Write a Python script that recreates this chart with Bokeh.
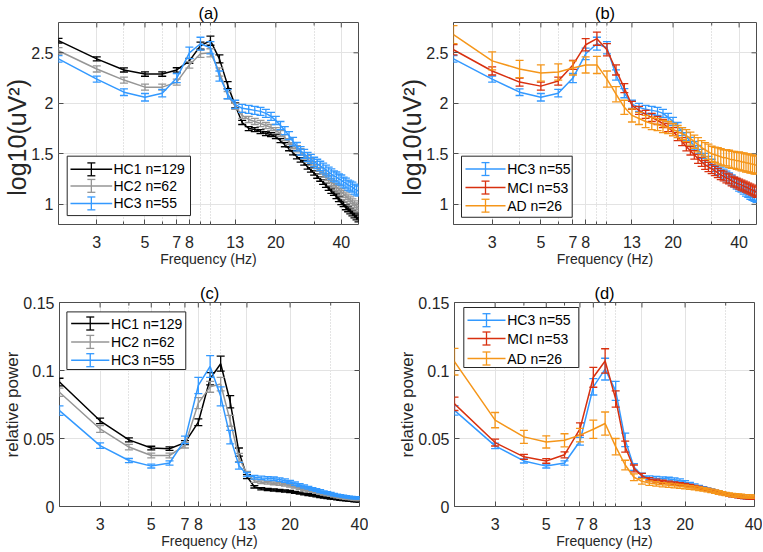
import math
from bokeh.plotting import figure
from bokeh.models import (Range1d, FixedTicker, Label, BoxAnnotation, ColumnDataSource)
from bokeh.layouts import row, column
from bokeh.embed import file_html
from bokeh.resources import INLINE

FONT = "Liberation Sans"
TXT = "#262626"
AX = "#4D4D4D"

# ---------------- data ----------------
freq_ab = [2, 3, 4, 5, 6, 7, 8, 9, 10, 11, 12, 13, 14, 15, 16, 17, 18, 19, 20, 21,
           22, 23, 24, 25, 26, 27, 28, 29, 30, 31, 32, 33, 34, 35, 36, 37, 38, 39, 40, 41,
           42, 43, 44, 45, 46, 47, 48]
freq_cd = [2, 3, 4, 5, 6, 7, 8, 9, 10, 11, 12, 13, 14, 15, 16, 17, 18, 19, 20, 21,
           22, 23, 24, 25, 26, 27, 28, 29, 30, 31, 32, 33, 34, 35, 36, 37, 38, 39, 40]

# panel (a): log10 absolute power
a_hc1 = [2.62, 2.44, 2.33, 2.29, 2.29, 2.33, 2.42, 2.57, 2.62, 2.44,
         2.18, 1.98, 1.81, 1.75, 1.74, 1.72, 1.70, 1.69, 1.67, 1.63,
         1.59, 1.55, 1.51, 1.47, 1.44, 1.41, 1.37, 1.34, 1.31, 1.28,
         1.25, 1.22, 1.19, 1.16, 1.13, 1.11, 1.08, 1.05, 1.02, 1.00,
         0.97, 0.95, 0.93, 0.91, 0.89, 0.87, 0.85]
a_hc1_err = [0.023, 0.02, 0.02, 0.022, 0.022, 0.022, 0.025, 0.035, 0.045, 0.04,
             0.035, 0.025, 0.02, 0.02, 0.02, 0.02, 0.02, 0.02, 0.02, 0.02,
             0.02, 0.02, 0.02, 0.02, 0.022, 0.022, 0.022, 0.022, 0.022, 0.022,
             0.022, 0.022, 0.022, 0.022, 0.022, 0.022, 0.024, 0.024, 0.024, 0.024,
             0.024, 0.024, 0.024, 0.024, 0.024, 0.024, 0.024]
a_hc2 = [2.52, 2.34, 2.23, 2.16, 2.16, 2.21, 2.38, 2.49, 2.50, 2.31,
         2.08, 1.97, 1.88, 1.84, 1.82, 1.80, 1.78, 1.76, 1.73, 1.70,
         1.66, 1.62, 1.58, 1.55, 1.52, 1.48, 1.45, 1.42, 1.39, 1.36,
         1.33, 1.30, 1.27, 1.25, 1.22, 1.20, 1.17, 1.15, 1.12, 1.10,
         1.08, 1.06, 1.04, 1.02, 1.00, 0.98, 0.96]
a_hc2_err = [0.032, 0.03, 0.03, 0.03, 0.03, 0.03, 0.032, 0.036, 0.04, 0.04,
             0.035, 0.03, 0.03, 0.03, 0.03, 0.03, 0.03, 0.03, 0.03, 0.03,
             0.03, 0.03, 0.03, 0.03, 0.032, 0.032, 0.032, 0.032, 0.032, 0.032,
             0.032, 0.032, 0.034, 0.034, 0.034, 0.034, 0.034, 0.034, 0.034, 0.034,
             0.034, 0.034, 0.034, 0.034, 0.034, 0.034, 0.034]
a_hc3 = [2.44, 2.24, 2.11, 2.06, 2.10, 2.25, 2.50, 2.59, 2.55, 2.27,
         2.09, 1.99, 1.95, 1.94, 1.93, 1.92, 1.90, 1.87, 1.83, 1.78,
         1.73, 1.68, 1.62, 1.57, 1.53, 1.50, 1.47, 1.45, 1.42, 1.40,
         1.38, 1.36, 1.34, 1.32, 1.30, 1.28, 1.27, 1.25, 1.24, 1.22,
         1.21, 1.19, 1.18, 1.17, 1.15, 1.14, 1.13]
a_hc3_err = [0.033, 0.03, 0.033, 0.037, 0.037, 0.045, 0.057, 0.064, 0.06, 0.05,
             0.045, 0.04, 0.04, 0.04, 0.04, 0.04, 0.04, 0.04, 0.04, 0.04,
             0.04, 0.04, 0.042, 0.042, 0.042, 0.044, 0.044, 0.044, 0.046, 0.046,
             0.046, 0.048, 0.048, 0.048, 0.05, 0.05, 0.05, 0.05, 0.05, 0.05,
             0.05, 0.05, 0.05, 0.05, 0.05, 0.05, 0.05]

# panel (b): log10 absolute power
b_hc3 = [2.44, 2.24, 2.11, 2.06, 2.10, 2.25, 2.49, 2.59, 2.55, 2.28,
         2.10, 1.99, 1.96, 1.94, 1.93, 1.92, 1.90, 1.86, 1.82, 1.77,
         1.72, 1.67, 1.62, 1.58, 1.54, 1.50, 1.46, 1.43, 1.40, 1.37,
         1.34, 1.32, 1.30, 1.28, 1.26, 1.24, 1.22, 1.20, 1.18, 1.17,
         1.15, 1.13, 1.12, 1.10, 1.09, 1.08, 1.07]
b_hc3_err = [0.033, 0.03, 0.033, 0.037, 0.037, 0.045, 0.057, 0.064, 0.06, 0.05,
             0.045, 0.04, 0.04, 0.04, 0.04, 0.04, 0.04, 0.04, 0.04, 0.04,
             0.04, 0.04, 0.042, 0.042, 0.042, 0.044, 0.044, 0.044, 0.046, 0.046,
             0.046, 0.048, 0.048, 0.048, 0.05, 0.05, 0.05, 0.05, 0.05, 0.05,
             0.05, 0.05, 0.05, 0.05, 0.05, 0.05, 0.05]
b_mci = [2.53, 2.32, 2.21, 2.17, 2.22, 2.38, 2.58, 2.64, 2.53, 2.33,
         2.15, 1.98, 1.93, 1.89, 1.86, 1.83, 1.80, 1.76, 1.72, 1.67,
         1.62, 1.57, 1.53, 1.49, 1.45, 1.42, 1.39, 1.37, 1.35, 1.33,
         1.31, 1.29, 1.28, 1.26, 1.25, 1.23, 1.22, 1.21, 1.20, 1.19,
         1.18, 1.17, 1.16, 1.15, 1.14, 1.13, 1.12]
b_mci_err = [0.05, 0.04, 0.04, 0.04, 0.04, 0.045, 0.06, 0.065, 0.06, 0.05,
             0.045, 0.04, 0.04, 0.04, 0.04, 0.04, 0.04, 0.04, 0.04, 0.04,
             0.04, 0.042, 0.042, 0.042, 0.044, 0.044, 0.044, 0.046, 0.046, 0.046,
             0.046, 0.046, 0.048, 0.048, 0.048, 0.048, 0.048, 0.048, 0.05, 0.05,
             0.05, 0.05, 0.05, 0.05, 0.05, 0.05, 0.05]
b_ad = [2.68, 2.42, 2.34, 2.30, 2.31, 2.35, 2.38, 2.38, 2.24, 2.09,
        1.96, 1.88, 1.85, 1.82, 1.80, 1.79, 1.77, 1.76, 1.74, 1.72,
        1.70, 1.68, 1.65, 1.62, 1.59, 1.56, 1.54, 1.52, 1.50, 1.49,
        1.48, 1.47, 1.46, 1.46, 1.45, 1.44, 1.44, 1.43, 1.43, 1.42,
        1.42, 1.41, 1.41, 1.40, 1.40, 1.39, 1.39]
b_ad_err = [0.09, 0.09, 0.085, 0.08, 0.08, 0.07, 0.08, 0.085, 0.08, 0.075,
            0.07, 0.065, 0.06, 0.06, 0.06, 0.06, 0.06, 0.06, 0.06, 0.06,
            0.06, 0.06, 0.065, 0.065, 0.07, 0.07, 0.07, 0.075, 0.075, 0.075,
            0.08, 0.08, 0.08, 0.08, 0.085, 0.085, 0.085, 0.085, 0.09, 0.09,
            0.09, 0.09, 0.09, 0.09, 0.09, 0.09, 0.09]

# panel (c): relative power
c_hc1 = [0.0915, 0.063, 0.049, 0.043, 0.0425, 0.047, 0.062, 0.094, 0.105, 0.077,
         0.040, 0.022, 0.0145, 0.013, 0.0125, 0.0122, 0.0118, 0.0114, 0.011, 0.0104,
         0.0098, 0.0092, 0.0087, 0.0082, 0.0077, 0.0072, 0.0068, 0.0064, 0.006, 0.0057,
         0.0054, 0.0051, 0.0048, 0.0046, 0.0044, 0.0042, 0.004, 0.0039, 0.0038]
c_hc1_err = [0.0028, 0.002, 0.0015, 0.0013, 0.0013, 0.0015, 0.0025, 0.0045, 0.0055, 0.0045,
             0.003, 0.0015, 0.0009, 0.0008, 0.0008, 0.0008, 0.0008, 0.0008, 0.0008, 0.0007,
             0.0007, 0.0007, 0.0007, 0.0006, 0.0006, 0.0006, 0.0006, 0.0006, 0.0005, 0.0005,
             0.0005, 0.0005, 0.0005, 0.0005, 0.0005, 0.0005, 0.0005, 0.0005, 0.0005]
c_hc2 = [0.084, 0.057, 0.0437, 0.0375, 0.0375, 0.045, 0.076, 0.088, 0.090, 0.063,
         0.036, 0.024, 0.019, 0.0178, 0.0174, 0.017, 0.0165, 0.016, 0.0152, 0.0144,
         0.0136, 0.0128, 0.012, 0.0112, 0.0105, 0.0098, 0.0092, 0.0086, 0.0081, 0.0076,
         0.0071, 0.0067, 0.0063, 0.006, 0.0057, 0.0055, 0.0053, 0.0051, 0.005]
c_hc2_err = [0.003, 0.0025, 0.002, 0.0017, 0.0017, 0.002, 0.004, 0.004, 0.005, 0.004,
             0.003, 0.0018, 0.0012, 0.001, 0.001, 0.001, 0.001, 0.001, 0.001, 0.0009,
             0.0009, 0.0009, 0.0008, 0.0008, 0.0008, 0.0008, 0.0008, 0.0007, 0.0007, 0.0007,
             0.0007, 0.0007, 0.0007, 0.0007, 0.0007, 0.0007, 0.0007, 0.0007, 0.0007]
c_hc3 = [0.0705, 0.0448, 0.0338, 0.0297, 0.032, 0.049, 0.089, 0.103, 0.081, 0.051,
         0.030, 0.0235, 0.0215, 0.021, 0.0207, 0.0204, 0.0198, 0.019, 0.018, 0.0168,
         0.0157, 0.0147, 0.0138, 0.0129, 0.0121, 0.0113, 0.0106, 0.01, 0.0094, 0.0088,
         0.0083, 0.0079, 0.0075, 0.0072, 0.0069, 0.0067, 0.0065, 0.0064, 0.0063]
c_hc3_err = [0.0035, 0.002, 0.0015, 0.0014, 0.0016, 0.0028, 0.006, 0.008, 0.007, 0.005,
             0.0025, 0.0015, 0.0013, 0.0013, 0.0013, 0.0013, 0.0013, 0.0013, 0.0012, 0.0012,
             0.0011, 0.0011, 0.001, 0.001, 0.001, 0.001, 0.0009, 0.0009, 0.0009, 0.0009,
             0.0008, 0.0008, 0.0008, 0.0008, 0.0008, 0.0008, 0.0008, 0.0008, 0.0008]

# panel (d): relative power
d_hc3 = [0.0707, 0.0446, 0.0335, 0.0297, 0.032, 0.048, 0.088, 0.101, 0.085, 0.049,
         0.029, 0.023, 0.0212, 0.0208, 0.0205, 0.0202, 0.0197, 0.019, 0.0178, 0.0166,
         0.0155, 0.0145, 0.0136, 0.0127, 0.0119, 0.0111, 0.0104, 0.0098, 0.0092, 0.0086,
         0.0081, 0.0077, 0.0073, 0.007, 0.0067, 0.0065, 0.0063, 0.0061, 0.006]
d_hc3_err = [0.0035, 0.002, 0.0015, 0.0014, 0.0016, 0.0028, 0.006, 0.008, 0.007, 0.005,
             0.0025, 0.0015, 0.0013, 0.0013, 0.0013, 0.0013, 0.0013, 0.0013, 0.0012, 0.0012,
             0.0011, 0.0011, 0.001, 0.001, 0.001, 0.001, 0.0009, 0.0009, 0.0009, 0.0009,
             0.0008, 0.0008, 0.0008, 0.0008, 0.0008, 0.0008, 0.0008, 0.0008, 0.0008]
d_mci = [0.0755, 0.047, 0.0365, 0.0335, 0.038, 0.057, 0.095, 0.107, 0.079, 0.044,
         0.028, 0.0225, 0.020, 0.019, 0.0182, 0.0176, 0.017, 0.0165, 0.016, 0.0153,
         0.0146, 0.0139, 0.0132, 0.0125, 0.0117, 0.011, 0.0103, 0.0096, 0.009, 0.0084,
         0.0079, 0.0075, 0.0071, 0.0068, 0.0066, 0.0064, 0.0062, 0.0061, 0.006]
d_mci_err = [0.0049, 0.0025, 0.0018, 0.0017, 0.0022, 0.0045, 0.0073, 0.009, 0.006, 0.004,
             0.0025, 0.0018, 0.0012, 0.0011, 0.0011, 0.001, 0.001, 0.001, 0.001, 0.001,
             0.0009, 0.0009, 0.0009, 0.0009, 0.0009, 0.0008, 0.0008, 0.0008, 0.0008, 0.0008,
             0.0008, 0.0008, 0.0008, 0.0008, 0.0008, 0.0008, 0.0008, 0.0008, 0.0008]
d_ad = [0.1065, 0.0635, 0.0512, 0.0475, 0.0487, 0.0525, 0.0568, 0.061, 0.044, 0.0305,
        0.0215, 0.0185, 0.0172, 0.0166, 0.016, 0.0156, 0.0152, 0.0148, 0.0144, 0.014,
        0.0136, 0.0131, 0.0126, 0.0121, 0.0115, 0.0109, 0.0103, 0.0097, 0.0092, 0.0088,
        0.0085, 0.0082, 0.008, 0.0078, 0.0076, 0.0075, 0.0074, 0.0073, 0.0072]
d_ad_err = [0.0098, 0.0056, 0.0048, 0.0045, 0.0048, 0.005, 0.0067, 0.0085, 0.006, 0.0035,
            0.0025, 0.002, 0.0016, 0.0016, 0.0015, 0.0015, 0.0015, 0.0015, 0.0014, 0.0014,
            0.0014, 0.0014, 0.0013, 0.0013, 0.0013, 0.0013, 0.0013, 0.0012, 0.0012, 0.0012,
            0.0012, 0.0012, 0.0012, 0.0012, 0.0012, 0.0012, 0.0012, 0.0012, 0.0012]

XTICKS = [3, 5, 7, 8, 13, 20, 40]
XMINOR = [2, 4, 6, 9, 10, 30]
YTICKS_ABS = [1, 1.5, 2, 2.5]
YLABELS_ABS = ["1", "1.5", "2", "2.5"]
YTICKS_REL = [0, 0.05, 0.1, 0.15]
YLABELS_REL = ["0", "0.05", "0.1", "0.15"]

C_HC1 = "#000000"
C_HC2 = "#969696"
C_HC3 = "#3399FF"
C_MCI = "#D8300F"
C_AD = "#F5961A"

NBSP = "\u00a0"


def make_panel(letter, freqs, series, xr, yr, yticks, ylabels, ylabel, ylab_size, ylab_standoff,
               width, height, bl, br, bt, bb, legend_geom):
    fw = width - bl - br
    fh = height - bt - bb
    x0, x1 = xr
    y0, y1 = yr

    def xd(px):
        return x0 * (x1 / x0) ** (px / fw)

    def yd(py):
        return y1 - (y1 - y0) * py / fh

    p = figure(width=width, height=height, x_axis_type="log",
               x_range=Range1d(x0, x1), y_range=Range1d(y0, y1),
               output_backend="svg", toolbar_location=None,
               min_border_left=bl, min_border_right=br,
               min_border_top=bt, min_border_bottom=bb)
    p.outline_line_color = AX
    p.outline_line_width = 1
    p.background_fill_color = "white"
    p.border_fill_color = "white"

    p.title.text = "(" + letter + ")"
    p.title.align = "center"
    p.title.text_font = FONT
    p.title.text_font_size = "16.5px"
    p.title.text_font_style = "normal"
    p.title.text_color = "black"
    p.title.standoff = 2
    p.title.offset = 0

    xt = FixedTicker(ticks=XTICKS, minor_ticks=XMINOR)
    yt = FixedTicker(ticks=yticks, minor_ticks=[])
    xa = p.xaxis[0]
    ya = p.yaxis[0]
    xa.ticker = xt
    ya.ticker = yt
    xa.major_label_overrides = {t: str(t) for t in XTICKS}
    ya.major_label_overrides = dict(zip(yticks, ylabels))
    for ax in (xa, ya):
        ax.axis_line_color = None
        ax.major_tick_in = 5
        ax.major_tick_out = 0
        ax.minor_tick_in = 3
        ax.minor_tick_out = 0
        ax.major_tick_line_color = AX
        ax.minor_tick_line_color = AX
        ax.major_label_text_font = FONT
        ax.major_label_text_font_size = "16px"
        ax.major_label_text_color = TXT
        ax.axis_label_text_font = FONT
        ax.axis_label_text_font_style = "normal"
        ax.axis_label_text_color = TXT
    xa.major_label_standoff = 11
    ya.major_label_standoff = 5
    xa.axis_label = "Frequency (Hz)"
    xa.axis_label_text_font_size = "14px"
    xa.axis_label_standoff = 0
    ya.axis_label = ylabel
    ya.axis_label_text_font_size = ylab_size
    ya.axis_label_standoff = ylab_standoff

    # inward ticks on the top and right edges of the box (MATLAB style)
    p.segment(x0=XTICKS, y0=[y1] * len(XTICKS), x1=XTICKS, y1=[yd(5)] * len(XTICKS),
              line_color=AX, line_width=1)
    p.segment(x0=XMINOR, y0=[y1] * len(XMINOR), x1=XMINOR, y1=[yd(3)] * len(XMINOR),
              line_color=AX, line_width=1)
    p.segment(x0=[xd(fw - 5)] * len(yticks), y0=yticks, x1=[x1] * len(yticks), y1=yticks,
              line_color=AX, line_width=1)

    p.xgrid.grid_line_color = "#E3E3E3"
    p.xgrid.minor_grid_line_color = "#C8C8C8"
    p.xgrid.minor_grid_line_dash = "1 2"
    p.ygrid.grid_line_color = "#E3E3E3"

    for name, color, ys, es in series:
        lo = [y - e for y, e in zip(ys, es)]
        hi = [y + e for y, e in zip(ys, es)]
        src = ColumnDataSource(dict(x=freqs, y=ys, lo=lo, hi=hi))
        p.line("x", "y", source=src, line_color=color, line_width=1.5)
        p.segment("x", "lo", "x", "hi", source=src, line_color=color, line_width=1.3)
        p.scatter("x", "lo", source=src, marker="dash", size=8, fill_color=None,
                  line_color=color, line_width=1.3)
        p.scatter("x", "hi", source=src, marker="dash", size=8, fill_color=None,
                  line_color=color, line_width=1.3)

    # legend (drawn by hand, MATLAB style)
    (lb_l, lb_r, lb_t, lb_b), rows_y, (lx0, lx1, tx) = legend_geom
    p.add_layout(BoxAnnotation(left=xd(lb_l), right=xd(lb_r), top=yd(lb_t), bottom=yd(lb_b),
                               fill_color="white", fill_alpha=1.0,
                               line_color=TXT, line_alpha=1.0, line_width=1))
    for (name, color, ys, es), ry in zip(series, rows_y):
        p.segment(x0=[xd(lx0)], y0=[yd(ry)], x1=[xd(lx1)], y1=[yd(ry)],
                  line_color=color, line_width=1.5, level="overlay")
        mx = xd((lx0 + lx1) / 2)
        p.segment(x0=[mx], y0=[yd(ry - 6.5)], x1=[mx], y1=[yd(ry + 6.5)],
                  line_color=color, line_width=1.3, level="overlay")
        p.scatter(x=[mx, mx], y=[yd(ry - 6.5), yd(ry + 6.5)], marker="dash", size=8,
                  fill_color=None, line_color=color, line_width=1.3, level="overlay")
        p.add_layout(Label(x=xd(tx), y=yd(ry), text=name, text_font=FONT,
                           text_font_size="14px", text_color="black",
                           text_align="left", text_baseline="middle"))
    return p


YLAB_ABS = "log10(uV²)" + NBSP * 4

pa = make_panel("a", freq_ab,
                [("HC1 n=129", C_HC1, a_hc1, a_hc1_err),
                 ("HC2 n=62", C_HC2, a_hc2, a_hc2_err),
                 ("HC3 n=55", C_HC3, a_hc3, a_hc3_err)],
                (2, 48), (0.8, 2.8), YTICKS_ABS, YLABELS_ABS, YLAB_ABS, "25px", -3,
                368, 280, 58, 10, 20, 56,
                ((8.7, 132, 135, 195), (148.3, 165, 182.7), (12, 53.7, 55)))
pb = make_panel("b", freq_ab,
                [("HC3 n=55", C_HC3, b_hc3, b_hc3_err),
                 ("MCI n=53", C_MCI, b_mci, b_mci_err),
                 ("AD n=26", C_AD, b_ad, b_ad_err)],
                (2, 48), (0.8, 2.8), YTICKS_ABS, YLABELS_ABS, YLAB_ABS, "25px", -3,
                394, 280, 85, 6, 20, 56,
                ((8, 118.7, 135, 196.7), (148, 166.7, 185), (12, 52, 53.7)))
pc = make_panel("c", freq_cd,
                [("HC1 n=129", C_HC1, c_hc1, c_hc1_err),
                 ("HC2 n=62", C_HC2, c_hc2, c_hc2_err),
                 ("HC3 n=55", C_HC3, c_hc3, c_hc3_err)],
                (2, 40), (0, 0.15), YTICKS_REL, YLABELS_REL, "relative power", "17px", -2,
                368, 271, 58, 9, 22, 45,
                ((7.4, 126.7, 9.4, 67), (21, 39.4, 57.7), (11.7, 50, 51.7)))
pd = make_panel("d", freq_cd,
                [("HC3 n=55", C_HC3, d_hc3, d_hc3_err),
                 ("MCI n=53", C_MCI, d_mci, d_mci_err),
                 ("AD n=26", C_AD, d_ad, d_ad_err)],
                (2, 40), (0, 0.15), YTICKS_REL, YLABELS_REL, "relative power", "17px", -2,
                394, 271, 86, 8, 22, 45,
                ((9.3, 124.3, 5, 65), (17.7, 36, 56), (13, 51, 52.7)))

layout = column(row(pa, pb), row(pc, pd))
open("out.html", "w").write(file_html(layout, INLINE))
